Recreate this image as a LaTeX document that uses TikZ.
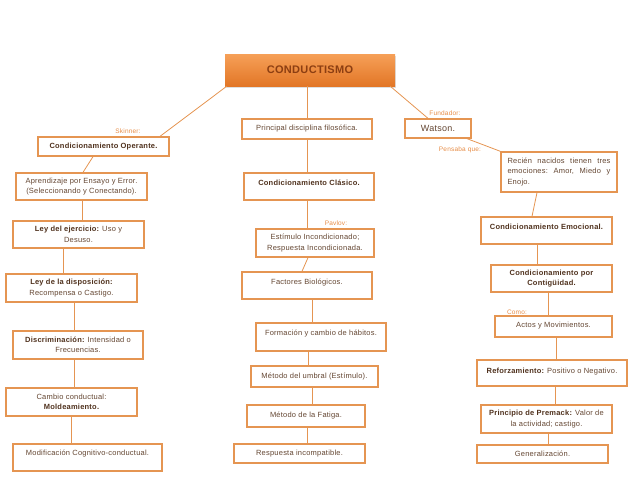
\documentclass[tikz,border=0pt]{standalone}
\usepackage{fontspec}
\setmainfont[LetterSpace=3]{Liberation Sans}
\usetikzlibrary{shadows}
\definecolor{bord}{RGB}{229,149,82}
\definecolor{txt}{RGB}{100,70,50}
\definecolor{btxt}{RGB}{80,50,30}
\definecolor{lab}{RGB}{230,140,70}
\definecolor{topA}{RGB}{246,160,88}
\definecolor{topB}{RGB}{226,118,38}
\definecolor{toptxt}{RGB}{140,62,18}
\tikzset{
  bx/.style={draw=bord, line width=1.3pt, fill=white, rectangle, inner sep=1pt,
    font=\fontsize{7.5}{10.5}\selectfont, text=txt, align=center},
  conn/.style={draw=bord, line width=0.8pt},
  lbl/.style={font=\fontsize{6.5}{7}\selectfont, text=lab, inner sep=0pt},
}
\newcommand{\B}[1]{{\bfseries\color{btxt}#1}}
\newcommand{\jline}[1]{\leavevmode\hbox to 103pt{#1}}
\begin{document}
\begin{tikzpicture}[x=1pt,y=-1pt]
\useasboundingbox (0,0) rectangle (638,493);
% top
\node[rectangle, top color=topA, bottom color=topB, draw=none, minimum width=170pt, minimum height=32pt,
  font=\fontsize{11}{12}\selectfont\bfseries, text=toptxt, drop shadow={opacity=0.25, shadow xshift=1pt, shadow yshift=-1.5pt}] (cond) at (310,70) {CONDUCTISMO};

% left column
\node[bx, minimum width=131pt, minimum height=19pt] (op) at (103.5,146.5) {\B{Condicionamiento Operante.}};
\node[bx, minimum width=131pt, minimum height=27pt] (apr) at (81.5,186.5) {Aprendizaje por Ensayo y Error.\\(Seleccionando y Conectando).};
\node[bx, minimum width=131pt, minimum height=27pt] (eje) at (78.5,234.5) {\B{Ley del ejercicio:} Uso y\\Desuso.};
\node[bx, minimum width=131pt, minimum height=28pt] (dis) at (71.5,288) {\B{Ley de la disposición:}\\Recompensa o Castigo.};
\node[bx, minimum width=130pt, minimum height=28pt] (disc) at (78,345) {\B{Discriminación:} Intensidad o\\Frecuencias.};
\node[bx, minimum width=131pt, minimum height=28pt] (cam) at (71.5,402) {Cambio conductual:\\\B{Moldeamiento.}};
\node[bx, minimum width=149pt, minimum height=27pt, text depth=9pt] (mod) at (87.5,457.5) {Modificación Cognitivo-conductual.};

% middle column
\node[bx, minimum width=130pt, minimum height=20pt] (pri) at (307,129) {Principal disciplina filosófica.};
\node[bx, minimum width=130pt, minimum height=27pt, text depth=8pt] (cla) at (309,186.5) {\B{Condicionamiento Clásico.}};
\node[bx, minimum width=118pt, minimum height=28pt] (est) at (315,243) {Estímulo Incondicionado;\\Respuesta Incondicionada.};
\node[bx, minimum width=130pt, minimum height=27pt, text depth=8pt] (fac) at (307,285.5) {Factores Biológicos.};
\node[bx, minimum width=130pt, minimum height=28pt, text depth=8pt] (for) at (321,337) {Formación y cambio de hábitos.};
\node[bx, minimum width=127pt, minimum height=21pt] (umb) at (314.5,376.5) {Método del umbral (Estímulo).};
\node[bx, minimum width=118pt, minimum height=22pt] (fat) at (306,416) {Método de la Fatiga.};
\node[bx, minimum width=131pt, minimum height=19pt] (res) at (299.5,453.5) {Respuesta incompatible.};

% right column
\node[bx, minimum width=66pt, minimum height=19pt, font=\fontsize{9}{10}\selectfont] (wat) at (438,128.5) {Watson.};
\node[bx, minimum width=116pt, minimum height=40pt, text width=103pt, align=left, inner sep=6pt] (rec) at (559,172)
  {\jline{Recién\hfill nacidos\hfill tienen\hfill tres}\\\jline{emociones:\hfill Amor,\hfill Miedo\hfill y}\\Enojo.};
\node[bx, minimum width=131pt, minimum height=27pt, text depth=8pt] (emo) at (546.5,230.5) {\B{Condicionamiento Emocional.}};
\node[bx, minimum width=121pt, minimum height=27pt] (con) at (551.5,278.5) {\B{Condicionamiento por}\\\B{Contigüidad.}};
\node[bx, minimum width=117pt, minimum height=21pt, text depth=4pt] (act) at (553.5,326.5) {Actos y Movimientos.};
\node[bx, minimum width=150pt, minimum height=26pt, text depth=5pt] (ref) at (552,373) {\B{Reforzamiento:} Positivo o Negativo.};
\node[bx, minimum width=131pt, minimum height=28pt] (pre) at (546.5,419) {\B{Principio de Premack:} Valor de\\la actividad; castigo.};
\node[bx, minimum width=131pt, minimum height=18pt] (gen) at (542.5,454) {Generalización.};

% labels
\node[lbl] (lskin) at (128,131) {Skinner:};
\node[lbl] (lpav) at (336,223) {Pavlov:};
\node[lbl] (lfun) at (445,113) {Fundador:};
\node[lbl] (lpen) at (460,150) {Pensaba que:};
\node[lbl] (lcomo) at (517,312) {Como:};

% connectors
\draw[conn] ([xshift=2pt]cond.south west) -- ([xshift=56.5pt]op.north);
\draw[conn] ([xshift=-10.5pt]op.south) -- ([xshift=1.5pt]apr.north);
\draw[conn] ([xshift=0.5pt]apr.south) -- ([xshift=3.5pt]eje.north);
\draw[conn] ([xshift=-15.5pt]eje.south) -- ([xshift=-8.5pt]dis.north);
\draw[conn] ([xshift=2.5pt]dis.south) -- ([xshift=-4pt]disc.north);
\draw[conn] ([xshift=-4pt]disc.south) -- ([xshift=2.5pt]cam.north);
\draw[conn] ([xshift=-0.5pt]cam.south) -- ([xshift=-16.5pt]mod.north);

\draw[conn] ([xshift=-3pt]cond.south) -- (pri.north);
\draw[conn] (pri.south) -- ([xshift=-2pt]cla.north);
\draw[conn] ([xshift=-2pt]cla.south) -- ([xshift=-8pt]est.north);
\draw[conn] ([xshift=-7pt]est.south) -- ([xshift=-5pt]fac.north);
\draw[conn] ([xshift=5pt]fac.south) -- ([xshift=-9pt]for.north);
\draw[conn] ([xshift=-13pt]for.south) -- ([xshift=-6.5pt]umb.north);
\draw[conn] ([xshift=-2.5pt]umb.south) -- ([xshift=6pt]fat.north);
\draw[conn] ([xshift=1pt]fat.south) -- ([xshift=7.5pt]res.north);

\draw[conn] ([xshift=-5pt]cond.south east) -- ([xshift=-10pt]wat.north);
\draw[conn] ([xshift=29pt]wat.south) -- (rec.north west);
\draw[conn] ([xshift=-22pt]rec.south) -- ([xshift=-14.5pt]emo.north);
\draw[conn] ([xshift=-9.5pt]emo.south) -- ([xshift=-14.5pt]con.north);
\draw[conn] ([xshift=-3.5pt]con.south) -- ([xshift=-5.5pt]act.north);
\draw[conn] ([xshift=2.5pt]act.south) -- ([xshift=4pt]ref.north);
\draw[conn] ([xshift=3pt]ref.south) -- ([xshift=8.5pt]pre.north);
\draw[conn] ([xshift=1.5pt]pre.south) -- ([xshift=5.5pt]gen.north);
\end{tikzpicture}
\end{document}
